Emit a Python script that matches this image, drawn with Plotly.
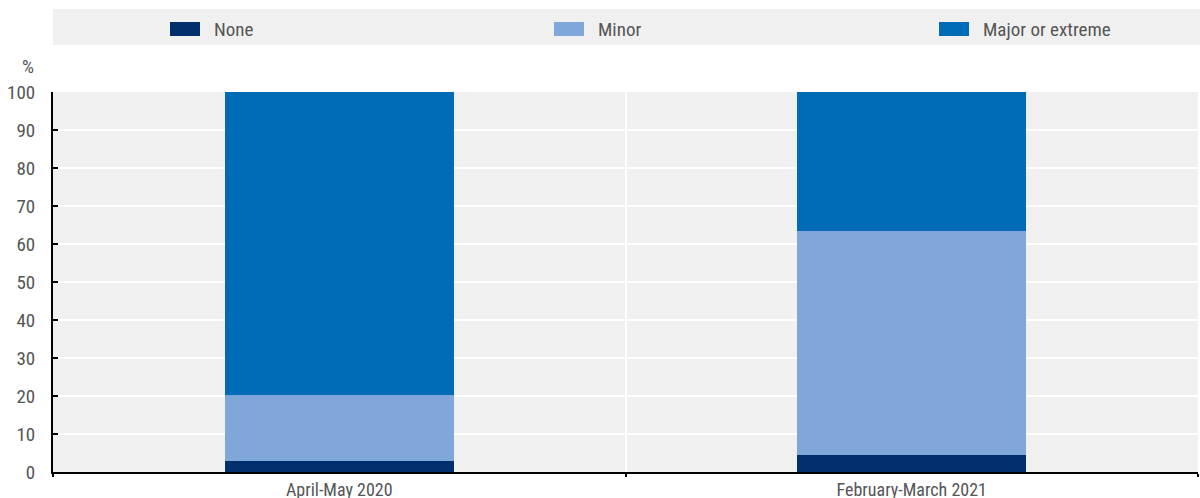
import plotly.graph_objects as go

categories = ["April-May 2020", "February-March 2021"]
series_names = ["None", "Minor", "Major or extreme"]
none_vals = [3.0, 4.4]
minor_vals = [17.2, 59.1]
major_vals = [79.8, 36.5]
colors = ["#002F6C", "#7FA7D9", "#006BB6"]
y_ticks = list(range(0, 101, 10))

FONT = "Roboto Condensed, Liberation Sans Narrow, Arial Narrow, sans-serif"
TXT = "#555555"
FS = 19

# plot area in pixels
L, R, T, B = 53, 1198, 92, 472
W, H = R - L, B - T


def px_x(p):
    return (p - L) / W


def px_y(p):
    return (B - p) / H


fig = go.Figure()
for name, vals, col in zip(series_names, [none_vals, minor_vals, major_vals], colors):
    fig.add_trace(go.Bar(x=categories, y=vals, name=name,
                         marker=dict(color=col, line=dict(width=0)), width=0.4))

fig.update_layout(
    barmode="stack",
    width=1200, height=498,
    margin=dict(l=L, r=1200 - R, t=T, b=498 - B, autoexpand=False),
    paper_bgcolor="white",
    plot_bgcolor="#F0F0F0",
    font=dict(family=FONT, size=FS, color=TXT),
    showlegend=False,
)

# legend band and entries
fig.add_shape(type="rect", xref="paper", yref="paper", x0=0, x1=px_x(1200),
              y0=px_y(45), y1=px_y(9), fillcolor="#F0F0F0", line=dict(width=0), layer="below")
legend_left = [170, 554, 939]
for name, col, lx in zip(series_names, colors, legend_left):
    fig.add_shape(type="rect", xref="paper", yref="paper", x0=px_x(lx), x1=px_x(lx + 30),
                  y0=px_y(36), y1=px_y(22), fillcolor=col, line=dict(width=0))
    fig.add_annotation(text=name, xref="paper", yref="paper", x=px_x(lx + 42), y=px_y(29),
                       xanchor="left", yanchor="middle", showarrow=False,
                       font=dict(family=FONT, size=FS, color=TXT))

fig.add_annotation(text="%", xref="paper", yref="paper", x=px_x(28), y=px_y(66),
                   xanchor="center", yanchor="middle", showarrow=False,
                   font=dict(family=FONT, size=FS, color=TXT))

fig.update_xaxes(
    type="category", tickson="boundaries", ticks="outside", ticklen=3, tickcolor="black",
    tickwidth=1.5,
    showgrid=True, gridcolor="white", gridwidth=1.5,
    showline=True, linecolor="black", linewidth=2,
    tickfont=dict(family=FONT, size=18, color=TXT),
)
fig.update_yaxes(
    range=[0, 100], tickvals=y_ticks, ticks="inside", ticklen=5, tickcolor="black",
    tickwidth=1.5,
    showgrid=True, gridcolor="white", gridwidth=1.5,
    showline=True, linecolor="black", linewidth=2, zeroline=False,
    ticklabelstandoff=12,
    tickfont=dict(family=FONT, size=FS, color=TXT),
)

fig.write_html("out.html", config={"displayModeBar": False},
               post_script="document.body.style.margin='0';document.body.style.overflow='hidden';")
